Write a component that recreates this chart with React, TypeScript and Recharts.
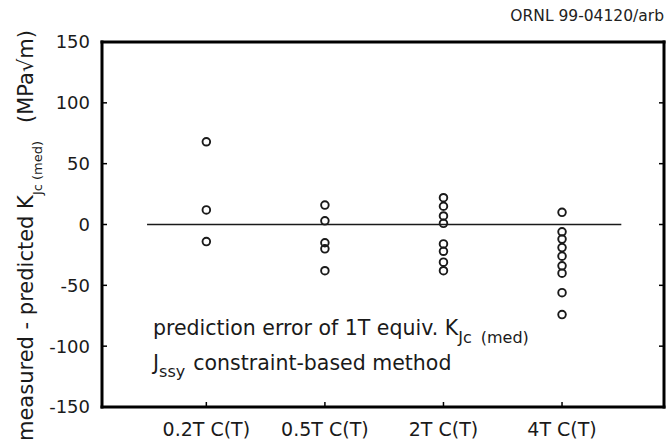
import React from 'react';
import { ScatterChart, Scatter, XAxis, YAxis, ReferenceLine } from 'recharts';

const categories = ['0.2T C(T)', '0.5T C(T)', '2T C(T)', '4T C(T)'];
const categoryPositions = [1, 2, 3, 4];
const err02T = [68, 12, -14];
const err05T = [16, 3, -15, -20, -38];
const err2T = [22, 15, 7, 1, -16, -22, -31, -38];
const err4T = [10, -6, -12, -19, -26, -34, -40, -56, -74];
const yTicks = [-150, -100, -50, 0, 50, 100, 150];
const yDomain = [-150, 150];
const xDomain = [0.12, 4.86];
const zeroLineX = [0.5, 4.5];

const groups = [err02T, err05T, err2T, err4T];
const points = groups.flatMap((vals, i) => vals.map((v) => ({ x: categoryPositions[i], y: v })));

const FONT = '"DejaVu Sans", "Liberation Sans", Arial, sans-serif';
const TEXT = '#1a1a1a';
const TICK_LEN = 5;

const Circle = (props: any) => {
  const { cx, cy } = props;
  if (cx == null || cy == null) return null;
  return <circle cx={cx} cy={cy} r={3.8} fill="none" stroke={TEXT} strokeWidth={1.9} />;
};

const LeftTick = (props: any) => {
  const { x, y, payload } = props;
  return (
    <g>
      <line x1={x + 12} x2={x + 12 + TICK_LEN} y1={y} y2={y} stroke="#000" strokeWidth={1.5} />
      <text x={x} y={y} dy="0.36em" textAnchor="end" fontFamily={FONT} fontSize={18} fill={TEXT}>
        {payload.value}
      </text>
    </g>
  );
};

const BottomTick = (props: any) => {
  const { x, y, payload } = props;
  return (
    <g>
      <line x1={x} x2={x} y1={y - 15} y2={y - 15 - TICK_LEN} stroke="#000" strokeWidth={1.5} />
      <text x={x} y={y} dy="0.73em" textAnchor="middle" fontFamily={FONT} fontSize={19} fill={TEXT}>
        {categories[payload.value - 1] ?? ''}
      </text>
    </g>
  );
};

const TopTick = (props: any) => {
  const { x, y } = props;
  return <line x1={x} x2={x} y1={y} y2={y + TICK_LEN} stroke="#000" strokeWidth={1.5} />;
};

const RightTick = (props: any) => {
  const { x, y } = props;
  return <line x1={x} x2={x - TICK_LEN} y1={y} y2={y} stroke="#000" strokeWidth={1.5} />;
};

const axisLine = { stroke: '#000', strokeWidth: 3, strokeLinecap: 'square' as const };

export default function App() {
  return (
    <div style={{ position: 'absolute', left: 0, top: 0, width: 668, height: 445, background: '#fff' }}>
      <ScatterChart width={668} height={445} margin={{ top: 12, right: 0, bottom: 0, left: 0 }}>
        <XAxis
          xAxisId="bottom"
          type="number"
          dataKey="x"
          domain={xDomain}
          ticks={categoryPositions}
          orientation="bottom"
          height={38}
          axisLine={axisLine}
          tickLine={false}
          tickSize={0}
          tickMargin={15}
          allowDataOverflow
          tick={BottomTick}
        />
        <XAxis
          xAxisId="top"
          type="number"
          domain={xDomain}
          ticks={categoryPositions}
          orientation="top"
          height={30}
          axisLine={axisLine}
          tickLine={false}
          tickSize={0}
          tickMargin={0}
          tick={TopTick}
          allowDataOverflow
        />
        <YAxis
          yAxisId="left"
          type="number"
          dataKey="y"
          domain={yDomain}
          ticks={yTicks}
          width={102}
          axisLine={axisLine}
          tickLine={false}
          tickSize={0}
          tickMargin={12}
          allowDataOverflow
          tick={LeftTick}
        />
        <YAxis
          yAxisId="right"
          type="number"
          orientation="right"
          domain={yDomain}
          ticks={yTicks}
          width={4}
          axisLine={axisLine}
          tickLine={false}
          tickSize={0}
          tickMargin={0}
          tick={RightTick}
          allowDataOverflow
        />
        <ReferenceLine
          xAxisId="bottom"
          yAxisId="left"
          segment={[{ x: zeroLineX[0], y: 0 }, { x: zeroLineX[1], y: 0 }]}
          stroke={TEXT}
          strokeWidth={1.5}
        />
        <Scatter
          xAxisId="bottom"
          yAxisId="left"
          data={points}
          shape={Circle}
          isAnimationActive={false}
        />
      </ScatterChart>
      <svg
        width={668}
        height={445}
        style={{ position: 'absolute', left: 0, top: 0, pointerEvents: 'none' }}
      >
        <text x={664} y={21} textAnchor="end" fontFamily={FONT} fontSize={15.5} fill="#222">
          ORNL 99-04120/arb
        </text>
        <text
          transform="translate(33,30) rotate(-90)"
          x={0}
          y={0}
          textAnchor="end"
          fontFamily={FONT}
          fontSize={21}
          fill={TEXT}
        >
          <tspan>measured - predicted K</tspan>
          <tspan fontSize={13} dy={9}>Jc (med)</tspan>
          <tspan dy={-9} dx={18}>(MPa√m)</tspan>
        </text>
        <text x={153} y={335} fontFamily={FONT} fontSize={20.5} fill={TEXT}>
          <tspan>prediction error of 1T equiv. K</tspan>
          <tspan fontSize={16} dy={8}>Jc</tspan>
          <tspan fontSize={16} dx={9}>(med)</tspan>
        </text>
        <text x={153} y={370} fontFamily={FONT} fontSize={20.5} fill={TEXT}>
          <tspan>J</tspan>
          <tspan fontSize={16} dy={7}>ssy</tspan>
          <tspan dy={-7} dx={8}>constraint-based method</tspan>
        </text>
      </svg>
    </div>
  );
}
